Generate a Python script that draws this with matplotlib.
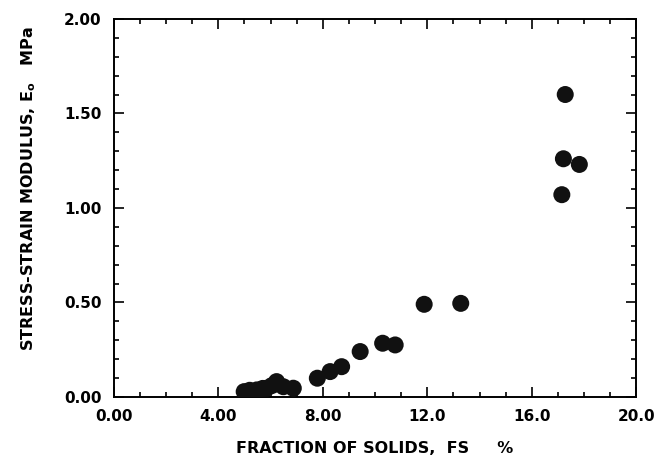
import matplotlib
matplotlib.use('Agg')
from matplotlib import pyplot
from matplotlib.ticker import MultipleLocator

# fraction of solids (%) and stress-strain modulus (MPa)
fs = [4.99, 5.20, 5.47, 5.70, 5.85, 6.05, 6.23, 6.49, 6.87,
      7.79, 8.28, 8.72, 9.43, 10.29, 10.77, 11.88, 13.28,
      17.15, 17.21, 17.28, 17.82]
e0 = [0.028, 0.035, 0.037, 0.045, 0.046, 0.060, 0.081, 0.054, 0.046,
      0.099, 0.134, 0.160, 0.240, 0.284, 0.275, 0.490, 0.495,
      1.07, 1.26, 1.60, 1.23]

xticks = [0, 4, 8, 12, 16, 20]
xticklabels = ['0.00', '4.00', '8.00', '12.0', '16.0', '20.0']
yticks = [0, 0.5, 1.0, 1.5, 2.0]
yticklabels = ['0.00', '0.50', '1.00', '1.50', '2.00']

pyplot.rcParams['font.family'] = ['DejaVu Sans']
tick_kw = {'fontsize': 11, 'fontweight': 'bold'}
label_kw = {'fontsize': 11.5, 'fontweight': 'bold'}

fig = pyplot.figure(figsize=(6.58, 4.61), dpi=100)
ax = fig.add_axes([0.173, 0.139, 0.794, 0.820])
ax.scatter(fs, e0, s=150, color='#111111', edgecolors='none', zorder=3)

ax.set_xlim(0, 20)
ax.set_ylim(0, 2.0)
ax.set_xticks(xticks)
ax.set_xticklabels(xticklabels, **tick_kw)
ax.set_yticks(yticks)
ax.set_yticklabels(yticklabels, **tick_kw)
ax.xaxis.set_minor_locator(MultipleLocator(1))
ax.yaxis.set_minor_locator(MultipleLocator(0.1))
ax.tick_params(which='both', direction='in', top=True, right=True, width=1.2)
ax.tick_params(which='major', length=7, pad=9)
ax.tick_params(which='minor', length=3.5)
for sp in ax.spines.values():
    sp.set_linewidth(1.4)

ax.set_xlabel('FRACTION OF SOLIDS,  FS     %', labelpad=12, **label_kw)
ax.set_ylabel(r'STRESS-STRAIN MODULUS, E$_\mathregular{o}$   MPa', **label_kw)
ax.yaxis.set_label_coords(-0.145, 0.55)

pyplot.savefig('out.png', dpi=100)
